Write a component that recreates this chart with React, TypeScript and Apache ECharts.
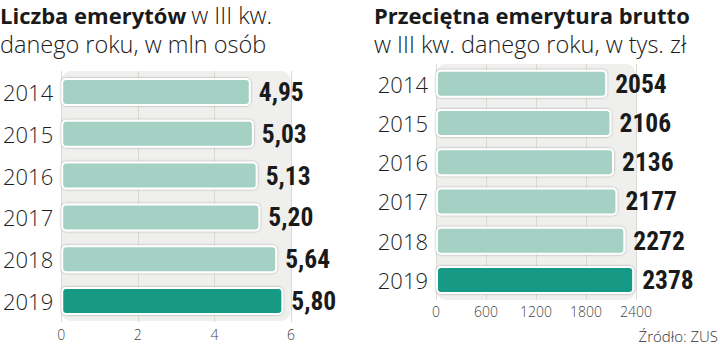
import React, { useEffect, useRef } from "react";
import * as echarts from "echarts";

const years = ["2014", "2015", "2016", "2017", "2018", "2019"];
const pensioners = [4.95, 5.03, 5.13, 5.2, 5.64, 5.8];
const avgPension = [2054, 2106, 2136, 2177, 2272, 2378];
const leftTicks = { min: 0, max: 6, interval: 2 };
const rightTicks = { min: 0, max: 2400, interval: 600 };

const LIGHT = "#a4d1c4";
const DARK = "#189a86";
const PANEL = "#efefed";
const VALUE_FONT = "'Roboto Condensed', 'Roboto', sans-serif";
const TEXT_FONT = "'Open Sans', 'Noto Sans', sans-serif";

function barData(values: number[]) {
  return values.map((v, i) => ({
    value: v,
    itemStyle: { color: i === values.length - 1 ? DARK : LIGHT },
  }));
}

export default function App() {
  const ref = useRef<HTMLDivElement>(null);
  useEffect(() => {
    if (!ref.current) return;
    const chart = echarts.init(ref.current, undefined, { renderer: "svg" });
    const yCommon = {
      type: "category" as const,
      data: years,
      inverse: true,
      axisLine: { show: false },
      axisTick: { show: false },
      axisLabel: { color: "#1e1e1e", fontSize: 22, fontFamily: TEXT_FONT, fontWeight: 300, margin: 8 },
    };
    const xCommon = {
      type: "value" as const,
      z: 1,
      axisLine: { show: false },
      axisTick: { show: false },
      splitLine: { show: true, lineStyle: { color: "#d9d9d5", width: 1 } },
      axisLabel: {
        color: "#444",
        fontSize: 14,
        fontFamily: TEXT_FONT,
        fontWeight: 300,
        margin: 5,
        formatter: (v: number) => String(v),
      },
    };
    const barCommon = {
      type: "bar" as const,
      barWidth: 28,
      z: 3,
      itemStyle: {
        borderColor: "#ffffff",
        borderWidth: 2,
        borderRadius: 4,
        shadowColor: "rgba(0,0,0,0.35)",
        shadowBlur: 2,
      },
      label: {
        show: true,
        position: "right" as const,
        distance: 8,
        color: "#1a1a1a",
        fontSize: 25.5,
        fontWeight: "bold" as const,
        fontFamily: VALUE_FONT,
      },
    };
    const richTitle = {
      b: { fontFamily: TEXT_FONT, fontWeight: "bold", fontSize: 22, color: "#1a1a1a", lineHeight: 29 },
      l: { fontFamily: TEXT_FONT, fontWeight: 300, fontSize: 23.5, color: "#1a1a1a", lineHeight: 29 },
    };
    chart.setOption({
      animation: false,
      backgroundColor: "#ffffff",
      title: [
        {
          left: 0,
          top: 0,
          padding: [0, 0, 0, 0],
          text: "{b|Liczba emerytów} {l|w III kw.}\n{l|danego roku, w mln osób}",
          textStyle: { rich: richTitle },
        },
        {
          left: 374,
          top: 0,
          padding: [0, 0, 0, 0],
          text: "{b|Przeciętna emerytura brutto}\n{l|w III kw. danego roku, w tys. zł}",
          textStyle: { rich: richTitle },
        },
      ],
      graphic: [
        { type: "rect", z: -10, shape: { x: 61, y: 71, width: 230, height: 250, r: 10 }, style: { fill: PANEL } },
        { type: "rect", z: -10, shape: { x: 436, y: 64, width: 200, height: 236, r: 10 }, style: { fill: PANEL } },
        {
          type: "text",
          right: 2,
          top: 328,
          style: { text: "Źródło: ZUS", fill: "#333", fontSize: 15, fontFamily: TEXT_FONT, fontWeight: 300 },
        },
      ],
      grid: [
        { left: 61, width: 230, top: 71, height: 251 },
        { left: 436, width: 200, top: 64, height: 235.6 },
      ],
      xAxis: [
        { ...xCommon, gridIndex: 0, ...leftTicks },
        { ...xCommon, gridIndex: 1, ...rightTicks },
      ],
      yAxis: [
        { ...yCommon, gridIndex: 0 },
        { ...yCommon, gridIndex: 1 },
      ],
      series: [
        {
          ...barCommon,
          xAxisIndex: 0,
          yAxisIndex: 0,
          data: barData(pensioners),
          label: {
            ...barCommon.label,
            formatter: (p: any) => Number(p.value).toFixed(2).replace(".", ","),
          },
        },
        {
          ...barCommon,
          xAxisIndex: 1,
          yAxisIndex: 1,
          data: barData(avgPension),
          label: { ...barCommon.label, formatter: (p: any) => String(p.value) },
        },
      ],
    });
    return () => chart.dispose();
  }, []);
  return <div ref={ref} style={{ position: "fixed", left: 0, top: 0, width: 720, height: 347 }} />;
}
